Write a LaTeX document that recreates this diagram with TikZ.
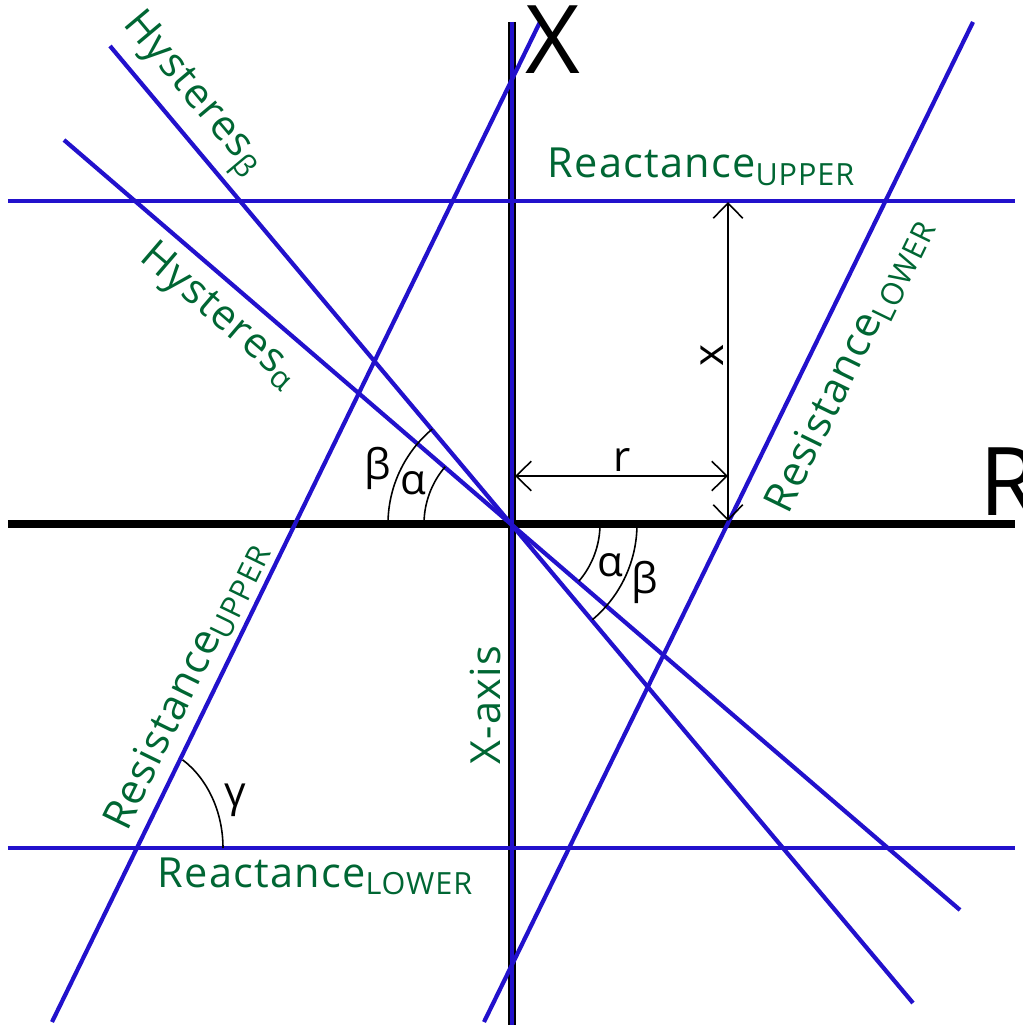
\documentclass[tikz,border=0pt]{standalone}
\usepackage{fontspec}
\setmainfont{Open Sans}
\newfontfamily\lblfont[LetterSpace=3]{Open Sans}
\usepackage{xcolor}
\usetikzlibrary{arrows.meta}
\definecolor{lineblue}{RGB}{34,17,204}
\definecolor{lblgreen}{RGB}{0,102,51}
\newcommand{\sublbl}[1]{\raisebox{-0.35ex}{\fontsize{8.7}{9}\selectfont #1}}

\begin{document}
\begin{tikzpicture}[
  bluline/.style={lineblue, line width=1.2pt},
  lbl/.style={text=lblgreen, font=\fontsize{11.8}{12}\lblfont, inner sep=0pt},
  sym/.style={font=\fontsize{12}{12}\selectfont, inner sep=0pt},
  big/.style={font=\fontsize{27}{27}\selectfont, inner sep=0pt},
  dim/.style={{Straight Barb[length=4.3pt,width=8.4pt]}-{Straight Barb[length=4.3pt,width=8.4pt]}, line width=0.45pt}
]
  \useasboundingbox (-5.12,-5.01) rectangle (5.11,5.24);

  % line end points
  \coordinate (ra1) at (-5.04,0);     \coordinate (ra2) at (5.03,0);
  \coordinate (xa1) at (0,5.02);      \coordinate (xa2) at (0,-5.05);
  \coordinate (xu1) at (-5.04,3.23);  \coordinate (xu2) at (5.03,3.23);
  \coordinate (xl1) at (-5.04,-3.24); \coordinate (xl2) at (5.03,-3.24);
  \coordinate (ru1) at (-4.60,-4.98); \coordinate (ru2) at (0.28,5.02);
  \coordinate (rl1) at (-0.28,-4.98); \coordinate (rl2) at (4.61,5.02);
  \coordinate (hb1) at (-4.02,4.78);  \coordinate (hb2) at (4.01,-4.79);
  \coordinate (ha1) at (-4.48,3.84);  \coordinate (ha2) at (4.48,-3.86);
  \coordinate (g) at (-3.75,-3.24);

  % axes
  \draw[line width=2pt] (ra1) -- (ra2);
  \draw[line width=2.1pt] (xa1) -- (xa2);
  \draw[lineblue, line width=1.1pt] (xa1) -- (xa2);

  % characteristic lines
  \foreach \a/\b in {xu1/xu2, xl1/xl2, ru1/ru2, rl1/rl2, hb1/hb2, ha1/ha2}
    \draw[bluline] (\a) -- (\b);

  % angles
  \draw[line width=0.45pt] (-0.88,0) arc[start angle=180, end angle=139.4, radius=0.88];
  \draw[line width=0.45pt] (-1.24,0) arc[start angle=180, end angle=130, radius=1.24];
  \draw[line width=0.45pt] (0.88,0) arc[start angle=0, end angle=-40.6, radius=0.88];
  \draw[line width=0.45pt] (1.25,0) arc[start angle=0, end angle=-50, radius=1.25];
  \draw[line width=0.45pt] ([xshift=0.86cm]g) arc[start angle=0, end angle=58, x radius=0.86, y radius=1.04];

  % r and x
  \coordinate (r1) at (0.03,0.48);  \coordinate (r2) at (2.16,0.48);
  \coordinate (x1) at (2.16,3.22);  \coordinate (x2) at (2.16,0.03);
  \draw[dim] (r1) -- (r2);
  \draw[dim] (x1) -- (x2);

  % labels
  \node[big] (lx) at (0.41,4.84) {X};
  \node[big, anchor=base west] (lr) at (4.67,0.09) {R};
  \node[lbl, anchor=base west] (lxu) at (0.35,3.46) {Reactance\sublbl{UPPER}};
  \node[lbl, anchor=base west] (lxl) at (-3.55,-3.63) {Reactance\sublbl{LOWER}};
  \node[lbl, rotate=-50] (lhb) at (-3.21,4.29) {Hysteres\sublbl{β}};
  \node[lbl, rotate=-40.6] (lha) at (-2.93,2.08) {Hysteres\sublbl{α}};
  \node[lbl, rotate=64] (lru) at (-3.26,-1.62) {Resistance\sublbl{UPPER}};
  \node[lbl, rotate=64] (lrl) at (3.37,1.59) {Resistance\sublbl{LOWER}};
  \node[lbl, rotate=90] (lxa) at (-0.27,-1.81) {X-axis};
  \node[sym, rotate=90] (lxd) at (2.00,1.69) {x};
  \node[sym] (lrd) at (1.10,0.64) {r};
  \node[sym] (b1) at (-1.34,0.56) {β};
  \node[sym] (a1) at (-0.99,0.41) {α};
  \node[sym] (a2) at (0.98,-0.41) {α};
  \node[sym] (b2) at (1.33,-0.58) {β};
  \node[sym] (gm) at (-2.77,-2.76) {γ};
\end{tikzpicture}
\end{document}
